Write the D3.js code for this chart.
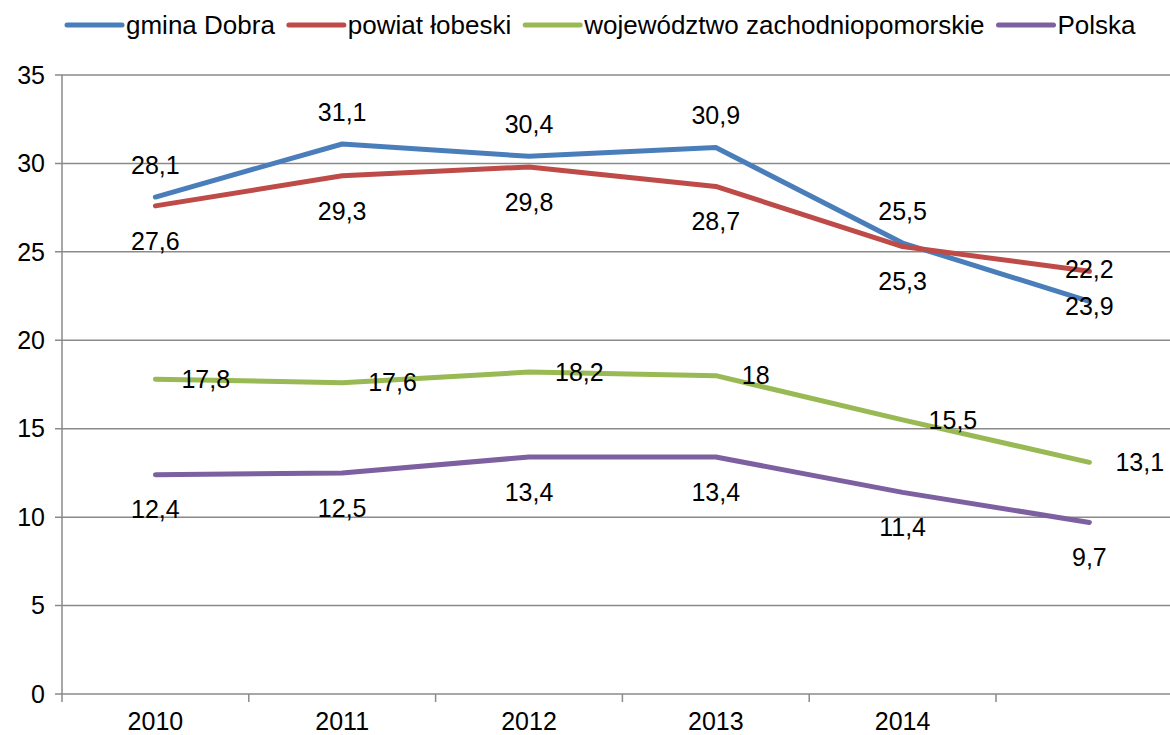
<!DOCTYPE html>
<html>
<head>
<meta charset="utf-8">
<script src="https://cdn.jsdelivr.net/npm/d3@7"></script>
<style>
  body { margin: 0; background: #fff; }
  svg { display: block; font-family: "Liberation Sans", Arial, sans-serif; }
</style>
</head>
<body>
<svg></svg>
<script>
var width = 1170,
    height = 735;

// data
var years = ["2010", "2011", "2012", "2013", "2014", ""];
var gminaDobra = [28.1, 31.1, 30.4, 30.9, 25.5, 22.2];
var powiatLobeski = [27.6, 29.3, 29.8, 28.7, 25.3, 23.9];
var wojewodztwo = [17.8, 17.6, 18.2, 18, 15.5, 13.1];
var polska = [12.4, 12.5, 13.4, 13.4, 11.4, 9.7];
var yTicks = [0, 5, 10, 15, 20, 25, 30, 35];

var series = [
  {name: "gmina Dobra", values: gminaDobra, color: "#4a7ebb", label: "above"},
  {name: "powiat łobeski", values: powiatLobeski, color: "#be4b48", label: "below"},
  {name: "województwo zachodniopomorskie", values: wojewodztwo, color: "#98b954", label: "right"},
  {name: "Polska", values: polska, color: "#7d60a0", label: "below"}
];

var svg = d3.select("svg")
    .attr("width", width)
    .attr("height", height);

var plotLeft = 62, plotTop = 75, plotBottom = 694, step = 186.8;

var x = d3.scaleBand()
    .domain(years.map(function(d, i) { return i; }))
    .range([plotLeft, plotLeft + step * years.length]);

var y = d3.scaleLinear()
    .domain([0, 35])
    .range([plotBottom, plotTop]);

var fmt = function(v) { return String(v).replace(".", ","); };

//gridlines
svg.append("g").selectAll("line")
    .data(yTicks)
  .enter().append("line")
    .attr("x1", plotLeft - 7)
    .attr("x2", width)
    .attr("y1", function(d) { return y(d); })
    .attr("y2", function(d) { return y(d); })
    .attr("stroke", "#8a8a8a")
    .attr("stroke-width", 1.5);

//y axis line
svg.append("line")
    .attr("x1", plotLeft).attr("x2", plotLeft)
    .attr("y1", y(35)).attr("y2", plotBottom)
    .attr("stroke", "#8a8a8a")
    .attr("stroke-width", 1.5);

//y tick labels
svg.append("g").selectAll("text")
    .data(yTicks)
  .enter().append("text")
    .attr("x", 45)
    .attr("y", function(d) { return y(d); })
    .attr("dy", "0.35em")
    .attr("text-anchor", "end")
    .style("font-size", "25px")
    .text(function(d) { return d; });

//x ticks
svg.append("g").selectAll("line")
    .data(years.map(function(d, i) { return i; }))
  .enter().append("line")
    .attr("x1", function(d) { return x(d); })
    .attr("x2", function(d) { return x(d); })
    .attr("y1", plotBottom)
    .attr("y2", plotBottom + 8)
    .attr("stroke", "#8a8a8a")
    .attr("stroke-width", 1.5);

svg.append("g").selectAll("text")
    .data(years)
  .enter().append("text")
    .attr("x", function(d, i) { return x(i) + x.bandwidth() / 2; })
    .attr("y", 730)
    .attr("text-anchor", "middle")
    .style("font-size", "25px")
    .text(function(d) { return d; });

//lines
var line = d3.line()
    .x(function(d, i) { return x(i) + x.bandwidth() / 2; })
    .y(function(d) { return y(d); });

svg.append("g").selectAll("path")
    .data(series)
  .enter().append("path")
    .attr("d", function(d) { return line(d.values); })
    .attr("fill", "none")
    .attr("stroke", function(d) { return d.color; })
    .attr("stroke-width", 5)
    .attr("stroke-linejoin", "round")
    .attr("stroke-linecap", "round");

//data labels
series.forEach(function(s) {
  svg.append("g").selectAll("text")
      .data(s.values)
    .enter().append("text")
      .attr("x", function(d, i) {
        var cx = x(i) + x.bandwidth() / 2;
        return s.label == "right" ? cx + 26 : cx;
      })
      .attr("y", function(d) {
        if (s.label == "above") return y(d) - 32;
        if (s.label == "below") return y(d) + 35;
        return y(d);
      })
      .attr("dy", "0.35em")
      .attr("text-anchor", s.label == "right" ? "start" : "middle")
      .style("font-size", "25px")
      .text(function(d) { return fmt(d); });
});

//legend
var lx = 67;
series.forEach(function(s) {
  var item = svg.append("g");
  item.append("line")
    .attr("x1", lx).attr("x2", lx + 55)
    .attr("y1", 25).attr("y2", 25)
    .attr("stroke", s.color)
    .attr("stroke-width", 5)
    .attr("stroke-linecap", "round");
  var t = item.append("text")
    .attr("x", lx + 59)
    .attr("y", 25)
    .attr("dy", "0.35em")
    .style("font-size", "26px")
    .text(s.name);
  lx = lx + 59 + t.node().getComputedTextLength() + 14;
});
</script>
</body>
</html>
